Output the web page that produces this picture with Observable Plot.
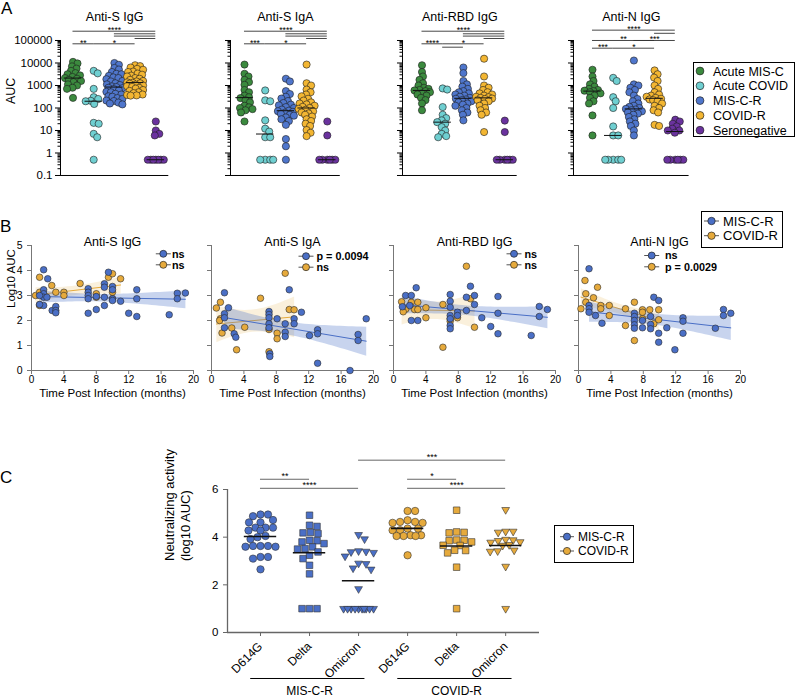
<!DOCTYPE html>
<html>
<head>
<meta charset="utf-8">
<script src="https://cdn.jsdelivr.net/npm/d3@7"></script>
<script src="https://cdn.jsdelivr.net/npm/@observablehq/plot@0.6"></script>
<style>
  html, body { margin: 0; padding: 0; background: #fff; }
  #root { position: relative; width: 799px; height: 698px; overflow: hidden; font-family: "Liberation Sans", Arial, Helvetica, sans-serif; color: #000; }
  .panel-label { position: absolute; font-size: 17px; line-height: 17px; }
</style>
</head>
<body>
<div id="root">
  <div class="panel-label" style="left:1px;top:0px">A</div>
  <div class="panel-label" style="left:0px;top:218px">B</div>
  <div class="panel-label" style="left:0px;top:469px">C</div>
</div>
<script>
const FONT = '"Liberation Sans", Arial, Helvetica, sans-serif';
const root = document.getElementById("root");

// ================= Panel A data (log10 AUC) =================
const groupsA = ["Acute MIS-C", "Acute COVID", "MIS-C-R", "COVID-R", "Seronegative"];
const colorsA = ["#3b8a3e", "#6fcfd1", "#4f76cc", "#f3b632", "#6a329e"];
const antigensA = ["Anti-S IgG", "Anti-S IgA", "Anti-RBD IgG", "Anti-N IgG"];
const ticksA = [0.1, 1, 10, 100, 1000, 10000, 100000];

const sIgG_acuteMISC = [4.05,3.98,3.85,3.75,3.65,3.55,3.5,3.45,3.38,3.33,3.3,3.25,3.2,3.15,3.05,3.0,2.9,2.85,2.45];
const sIgG_acuteCOVID = [3.65,3.54,2.85,2.48,2.4,2.32,2.3,2.18,1.34,1.3,0.85,0.7,-0.3];
const sIgG_miscR = [4.0,3.92,3.78,3.71,3.6,3.52,3.5,3.43,3.36,3.33,3.28,3.2,3.18,3.1,3.05,3.02,2.96,2.93,2.9,2.88,2.84,2.78,2.72,2.7,2.63,2.6,2.52,2.5,2.44,2.4,2.33,2.31,2.24,2.2,2.16];
const sIgG_covidR = [3.9,3.86,3.8,3.74,3.7,3.62,3.6,3.53,3.48,3.44,3.4,3.33,3.3,3.25,3.2,3.18,3.14,3.12,3.1,3.08,3.04,3.0,2.97,2.94,2.9,2.86,2.8,2.76,2.7,2.66,2.6,2.58,2.56,2.55];
const sIgG_seroneg = [1.4,1.0,0.85,0.78,-0.3,-0.3,-0.3,-0.3,-0.3,-0.3,-0.3];

const sIgA_acuteMISC = [3.93,3.52,3.4,3.25,3.15,3.03,2.8,2.7,2.55,2.48,2.44,2.35,2.25,2.1,2.03,2.0,1.95,1.9,1.8,1.4];
const sIgA_acuteCOVID = [2.78,2.34,2.3,1.45,1.08,0.95,0.7,0.7,-0.3,-0.3,-0.3,-0.3];
const sIgA_miscR = [3.3,3.18,2.75,2.62,2.5,2.42,2.31,2.22,2.15,2.12,2.04,2.0,1.93,1.88,1.86,1.83,1.79,1.74,1.7,1.66,1.58,1.5,1.42,1.25,0.62,0.3,-0.3];
const sIgA_covidR = [3.93,3.1,3.0,2.82,2.7,2.6,2.52,2.41,2.33,2.25,2.2,2.16,2.1,2.05,2.0,1.96,1.92,1.85,1.8,1.76,1.7,1.62,1.5,1.42,1.3,1.2,1.02,0.9,0.75];
const sIgA_seroneg = [1.4,0.78,-0.3,-0.3,-0.3,-0.3,-0.3,-0.3];

const rbdIgG_acuteMISC = [3.9,3.6,3.4,3.25,3.1,3.0,2.9,2.85,2.8,2.78,2.75,2.7,2.65,2.6,2.55,2.45,2.35,2.2,1.9];
const rbdIgG_acuteCOVID = [2.87,2.82,2.04,1.7,1.55,1.45,1.37,1.3,1.15,1.0,0.85,0.75,0.7];
const rbdIgG_miscR = [3.8,3.55,3.2,3.05,2.95,2.85,2.75,2.7,2.65,2.6,2.55,2.5,2.45,2.41,2.38,2.35,2.3,2.25,2.2,2.15,2.1,2.0,1.9,1.8,1.7,1.45];
const rbdIgG_covidR = [4.19,3.4,3.0,2.9,2.8,2.7,2.65,2.6,2.55,2.5,2.48,2.45,2.42,2.4,2.35,2.3,2.2,2.1,2.0,1.9,1.8,1.7,0.93];
const rbdIgG_seroneg = [1.44,0.93,-0.3,-0.3,-0.3,-0.3,-0.3,-0.3];

const nIgG_acuteMISC = [3.7,3.4,3.2,3.05,2.95,2.85,2.8,2.77,2.75,2.7,2.65,2.55,2.45,2.3,2.2,1.67,0.78];
const nIgG_acuteCOVID = [3.34,3.2,2.48,2.3,2.0,1.18,0.78,0.78,-0.3,-0.3,-0.3,-0.3,-0.3];
const nIgG_miscR = [4.11,3.05,3.0,2.9,2.8,2.7,2.55,2.4,2.3,2.2,2.1,2.05,2.0,1.96,1.93,1.9,1.85,1.8,1.75,1.7,1.6,1.5,1.4,1.3,1.2,1.0,0.78];
const nIgG_covidR = [3.67,3.5,3.35,3.2,3.0,2.85,2.7,2.6,2.55,2.5,2.45,2.41,2.38,2.35,2.3,2.2,2.1,2.0,1.9,1.8,1.25,1.2];
const nIgG_seroneg = [1.48,1.4,1.3,1.18,1.08,1.0,1.0,0.9,-0.3,-0.3,-0.3,-0.3,-0.3,-0.3];

const dataA = [
  [sIgG_acuteMISC, sIgG_acuteCOVID, sIgG_miscR, sIgG_covidR, sIgG_seroneg],
  [sIgA_acuteMISC, sIgA_acuteCOVID, sIgA_miscR, sIgA_covidR, sIgA_seroneg],
  [rbdIgG_acuteMISC, rbdIgG_acuteCOVID, rbdIgG_miscR, rbdIgG_covidR, rbdIgG_seroneg],
  [nIgG_acuteMISC, nIgG_acuteCOVID, nIgG_miscR, nIgG_covidR, nIgG_seroneg]
];

// significance brackets: [from group, to group, label, stacking row]
const sigA_sIgG = [[0,4,"****",0],[2,4,"",1],[2,4,"",2],[3,4,"",3],[0,1,"**",4],[1,3,"*",4]];
const sigA_sIgA = [[0,4,"****",0],[2,4,"",1],[2,4,"",2],[3,4,"",3],[0,1,"***",4],[1,3,"*",4]];
const sigA_rbd  = [[0,4,"****",0],[2,4,"",1],[2,4,"",2],[3,4,"",3],[0,1,"****",4],[1,3,"*",4],[1,2,"",5]];
const sigA_n    = [[0,4,"****",0],[3,4,"",1],[0,3,"**",2],[2,4,"***",2],[0,1,"***",3],[1,3,"*",3]];
const sigA = [sigA_sIgG, sigA_sIgA, sigA_rbd, sigA_n];

// ================= Panel B data: [months, log10 AUC] =================
const cohorts = ["MIS-C-R", "COVID-R"];
const cohortColors = ["#4a6fc6", "#e6aa3c"];
const statsB = [["ns", "ns"], ["p = 0.0094", "ns"], ["ns", "ns"], ["ns", "p = 0.0029"]];
const ticksBx = [0, 4, 8, 12, 16, 20];
const ticksBy = [0, 1, 2, 3, 4, 5];

const bSIgG_miscR = [[1.5,4.03],[2.0,3.67],[1.5,3.23],[1.5,3.07],[1.5,2.93],[1.0,3.0],[1.9,2.93],[1.5,2.6],[1.0,2.64],[2.55,2.4],[3.0,2.56],[3.0,2.4],[3.0,2.31],[7.0,3.27],[7.0,3.13],[7.0,3.0],[7.0,2.87],[7.0,2.29],[8.0,2.96],[8.0,2.44],[9.0,3.47],[9.0,3.33],[9.0,2.93],[9.0,2.6],[9.5,3.93],[10.0,3.36],[10.0,3.23],[10.0,2.87],[10.0,2.8],[11.0,2.77],[12.0,2.29],[13.0,3.23],[13.0,2.87],[13.0,2.16],[17.0,2.23],[18.0,3.09],[18.0,2.87],[19.0,3.1]];
const bSIgG_covidR = [[0.5,3.0],[1.0,3.73],[1.0,3.13],[1.0,2.63],[1.0,2.6],[2.5,3.4],[3.0,3.13],[4.0,3.13],[4.0,3.0],[6.0,3.48],[8.0,3.07],[8.0,2.93],[9.5,3.73],[10.0,3.87],[10.0,3.13],[10.0,2.87],[11.0,3.67]];
const bSIgA_miscR = [[1.6,3.11],[2.1,2.51],[1.6,2.27],[1.6,2.11],[1.6,1.71],[2.8,1.47],[3.0,1.33],[7.1,2.36],[7.1,2.24],[7.1,2.11],[7.1,1.87],[7.1,1.71],[7.2,0.67],[7.2,0.56],[8.1,2.07],[9.1,1.87],[9.1,1.53],[9.1,1.36],[9.6,3.23],[10.2,2.07],[10.2,1.87],[11.1,2.33],[12.1,1.4],[13.1,1.63],[13.1,1.47],[13.1,0.29],[17.1,0.0],[18.1,1.44],[18.1,1.2],[19.1,2.07]];
const bSIgA_covidR = [[1.1,2.73],[1.1,2.07],[0.6,2.5],[1.0,2.0],[1.3,1.5],[2.5,1.7],[3.1,0.83],[4.1,1.73],[6.05,2.89],[7.1,1.64],[7.1,0.75],[8.1,1.49],[8.1,1.27],[9.1,3.89],[9.6,2.44],[10.2,2.43]];
const bRBD_miscR = [[1.1,2.55],[1.5,3.0],[2.0,2.6],[2.2,3.0],[2.8,3.31],[2.2,2.0],[3.0,2.0],[7.0,3.04],[7.0,2.77],[7.0,2.53],[7.0,2.2],[7.0,2.07],[7.0,1.8],[7.0,1.67],[7.9,2.33],[7.9,2.2],[9.0,2.93],[9.0,2.4],[9.5,3.37],[10.0,3.0],[10.0,2.64],[10.9,2.11],[12.0,1.76],[12.9,2.96],[12.9,2.29],[12.9,1.47],[17.0,1.4],[18.0,2.56],[18.0,2.16],[19.0,2.44]];
const bRBD_covidR = [[1.0,2.75],[1.5,2.45],[1.2,2.35],[2.2,2.73],[3.0,2.73],[2.6,2.44],[3.0,2.44],[4.0,2.51],[4.0,2.11],[6.1,2.64],[6.1,0.93],[7.0,2.07],[7.0,1.97],[7.9,2.11],[9.0,4.17],[9.5,2.87],[10.0,1.73]];
const bN_miscR = [[1.3,4.07],[1.3,2.6],[1.3,2.47],[1.3,2.33],[2.1,2.2],[2.9,1.89],[6.9,2.29],[6.9,2.16],[6.9,2.0],[6.9,1.83],[6.9,1.69],[7.9,2.0],[7.9,1.71],[8.9,2.16],[8.9,1.84],[8.9,1.67],[9.3,2.93],[9.9,2.8],[9.9,1.49],[9.9,1.13],[10.9,1.71],[11.9,0.83],[12.9,2.11],[12.9,1.97],[12.9,1.49],[16.9,1.69],[17.9,2.44],[17.9,2.2],[18.8,2.29]];
const bN_covidR = [[0.3,2.47],[0.8,3.6],[0.9,3.07],[0.9,2.73],[1.85,2.91],[2.35,3.33],[2.75,2.6],[2.75,2.47],[3.8,2.6],[3.8,2.2],[5.8,2.47],[5.8,1.8],[6.9,2.73],[6.9,1.2],[7.9,2.43],[7.9,2.33],[7.9,2.07],[8.8,2.43],[9.3,1.87],[9.9,2.43],[9.9,2.03]];
const dataB = [[bSIgG_miscR, bSIgG_covidR], [bSIgA_miscR, bSIgA_covidR], [bRBD_miscR, bRBD_covidR], [bN_miscR, bN_covidR]];

// ================= Panel C data: neutralizing activity, log10 AUC =================
const variantsC = ["D614G", "Delta", "Omicron"];
const ticksCy = [0, 2, 4, 6];
const cMISCR_D614G = [4.95,4.95,4.88,4.72,4.62,4.62,4.4,4.4,4.4,4.28,4.28,4.05,4.0,3.92,3.63,3.63,3.63,3.6,3.6,3.17,3.17,3.1,2.65];
const cMISCR_Delta = [4.92,4.5,4.45,4.2,4.18,4.15,3.87,3.85,3.8,3.73,3.59,3.52,3.5,3.38,3.24,3.1,2.82,2.46,1.0,1.0,1.0];
const cMISCR_Omicron = [4.1,3.92,3.42,3.4,3.38,3.35,3.2,2.9,2.88,2.7,2.65,1.83,1,1,1,1,1,1,1,1,1,1];
const cCOVIDR_D614G = [5.1,5.1,4.71,4.64,4.64,4.6,4.6,4.36,4.36,4.29,4.29,4.08,4.08,4.05,4.05,4.05,3.24];
const cCOVIDR_Delta = [5.13,4.22,4.2,4.18,3.88,3.87,3.85,3.8,3.66,3.65,3.45,3.44,3.34,2.74,1.0];
const cCOVIDR_Omicron = [5.15,4.24,4.24,4.2,3.9,3.88,3.85,3.8,3.78,3.68,3.65,3.45,3.42,3.4,2.77,1.0];
const dataC = [cMISCR_D614G, cMISCR_Delta, cMISCR_Omicron, cCOVIDR_D614G, cCOVIDR_Delta, cCOVIDR_Omicron];
const sigC = [[2,5,"***",0],[0,1,"**",1],[3,4,"*",1],[0,2,"****",2],[3,5,"****",2]];

// ================= helpers =================
function place(node, left, top) {
  node.style.position = "absolute";
  node.style.left = left + "px";
  node.style.top = top + "px";
  root.appendChild(node);
}
// deterministic beeswarm offsets (pixels) for pixel y positions
function swarm(ys, D, W, step = 0.5) {
  const n = ys.length;
  const order = d3.range(n).sort((a, b) => (ys[a] - ys[b]) || (a - b));
  const cands = [0];
  for (let s = step; s <= W + 1e-9; s += step) cands.push(s, -s);
  const px = [], py = [], off = new Array(n);
  for (const i of order) {
    let chosen = null, best = -1, bestC = 0;
    for (const c of cands) {
      let md = Infinity;
      for (let j = 0; j < px.length; j++) {
        const d = Math.hypot(c - px[j], ys[i] - py[j]);
        if (d < md) md = d;
      }
      if (md >= D) { chosen = c; break; }
      if (md > best + 1e-9) { best = md; bestC = c; }
    }
    if (chosen === null) chosen = bestC;
    off[i] = chosen; px.push(chosen); py.push(ys[i]);
  }
  return off;
}
const baseStyle = {background: "transparent", overflow: "visible", fontFamily: FONT, fontSize: "11px", color: "#000"};

// ================= Panel A =================
const A_AXIS = [60, 229.5, 402, 572.7];
const A_END = [168.3, 339.3, 516.7, 688.3];
const A_GAP = [12.5, 14, 19.5, 19];
const sigRowsA = [
  [5.413, 5.298, 5.196, 5.089, 4.853, 4.702],
  [5.413, 5.298, 5.196, 5.089, 4.853, 4.702],
  [5.413, 5.298, 5.196, 5.089, 4.853, 4.702],
  [5.46, 5.32, 5.0, 4.658]
];
function plotA(k) {
  const ax = A_AXIS[k], end = A_END[k], gap = A_GAP[k], sp = 20.7;
  const ml = 60, mr = 4, mt = 22, mb = 10, height = 185;
  const inner = end - ax, width = ml + inner + mr;
  const x0 = -gap / sp, x1 = 4 + (end - (ax + gap + 4 * sp)) / sp;
  const yDom = [0.1, Math.pow(10, 5.8)];
  const yPx = d3.scaleLog().domain(yDom).range([height - mb, mt]);
  const ppu = inner / (x1 - x0);
  const pts = [], meds = [];
  dataA[k].forEach((logs, gi) => {
    const vals = logs.map(v => Math.pow(10, v));
    const offs = swarm(vals.map(v => yPx(v)), 4.6, 8);
    vals.forEach((v, j) => pts.push({group: groupsA[gi], v, x: gi + offs[j] / ppu}));
    meds.push({gi, m: d3.median(vals)});
  });
  const bars = sigA[k].map(([a, b, label, row]) => ({a, b, label, y: Math.pow(10, sigRowsA[k][row])}));
  const minor = [];
  for (let e = -1; e < 5; e++) for (let m = 2; m <= 9; m++) minor.push(m * Math.pow(10, e));
  const svg = Plot.plot({
    width, height, marginLeft: ml, marginRight: mr, marginTop: mt, marginBottom: mb,
    style: baseStyle,
    x: {domain: [x0, x1], axis: null, label: null},
    y: {type: "log", domain: yDom, label: null},
    color: {domain: groupsA, range: colorsA},
    marks: [
      Plot.ruleX([{}], {x: () => x0, y1: () => 0.1, y2: () => 100000, stroke: "#000", strokeWidth: 1}),
      Plot.ruleY([{}], {y: () => 0.1, x1: () => x0, x2: () => x1, stroke: "#000", strokeWidth: 1}),
      Plot.axisY(minor, {tickSize: 2.5, tickFormat: () => "", stroke: "#000"}),
      Plot.axisY(ticksA, {tickSize: 5, tickPadding: 3, tickFormat: k === 0 ? (d => String(d)) : (() => ""), stroke: "#000", fontSize: 11.5}),
      Plot.dot(pts, {x: "x", y: "v", r: 3.6, fill: "group", stroke: "#1d1d1d", strokeWidth: 0.6}),
      Plot.ruleY(meds, {y: "m", x1: d => d.gi - 0.42, x2: d => d.gi + 0.42, stroke: "#111", strokeWidth: 1}),
      Plot.ruleY(bars, {y: "y", x1: "a", x2: "b", stroke: "#333", strokeWidth: 0.9}),
      Plot.text(bars.filter(d => d.label), {x: d => (d.a + d.b) / 2, y: "y", text: "label", dy: -1, fontSize: 8.5}),
      Plot.text([antigensA[k]], {frameAnchor: "top", text: d => d, dy: -10, fontSize: 12.5}),
      ...(k === 0 ? [Plot.text(["AUC"], {frameAnchor: "left", text: d => d, rotate: -90, dx: -50, dy: 5, fontSize: 12.5})] : [])
    ]
  });
  place(svg, ax - ml, 0);
}
antigensA.forEach((_, k) => plotA(k));

// ================= Panel B =================
const B_AXIS = [31, 211, 392.5, 578];
function plotB(k) {
  const ax = B_AXIS[k], ml = 31, mr = 8, mt = 20, mb = 34, inner = 162, height = 179;
  const width = ml + inner + mr;
  const toObj = arr => arr.map(([m, v]) => ({m, v}));
  const mis = toObj(dataB[k][0]), cov = toObj(dataB[k][1]);
  const svg = Plot.plot({
    width, height, marginLeft: ml, marginRight: mr, marginTop: mt, marginBottom: mb,
    style: baseStyle,
    x: {domain: [0, 20], label: null},
    y: {domain: [0, 5], label: null},
    marks: [
      Plot.linearRegressionY(cov, {x: "m", y: "v", stroke: cohortColors[1], fill: cohortColors[1], fillOpacity: 0.18, strokeWidth: 1}),
      Plot.linearRegressionY(mis, {x: "m", y: "v", stroke: cohortColors[0], fill: cohortColors[0], fillOpacity: 0.3, strokeWidth: 1}),
      Plot.ruleX([{}], {x: () => 0, y1: () => 0, y2: () => 5, stroke: "#777", strokeWidth: 1}),
      Plot.ruleY([{}], {y: () => 0, x1: () => 0, x2: () => 20, stroke: "#777", strokeWidth: 1}),
      Plot.axisY(ticksBy, {tickSize: 4, tickFormat: k === 0 ? (d => String(d)) : (() => ""), stroke: "#777", fontSize: 10.5}),
      Plot.axisX(ticksBx, {tickSize: 4, tickPadding: 1, stroke: "#777", fontSize: 10}),
      Plot.dot(cov, {x: "m", y: "v", r: 3.3, fill: cohortColors[1], stroke: "#2a2a2a", strokeWidth: 0.6}),
      Plot.dot(mis, {x: "m", y: "v", r: 3.3, fill: cohortColors[0], stroke: "#2a2a2a", strokeWidth: 0.6}),
      Plot.text([antigensA[k]], {frameAnchor: "top", text: d => d, dy: -8, fontSize: 12.5}),
      Plot.text(["Time Post Infection (months)"], {frameAnchor: "bottom", text: d => d, dy: 26, fontSize: 11.5}),
      ...(k === 0 ? [Plot.text(["Log10 AUC"], {frameAnchor: "left", text: d => d, rotate: -90, dx: -20, fontSize: 11.5})] : [])
    ]
  });
  place(svg, ax - ml, 225);
}
antigensA.forEach((_, k) => plotB(k));

// ================= Panel C =================
function triDownSymbol() {
  return {
    draw(context, size) {
      const y = Math.sqrt(size / (Math.sqrt(3) * 3)) * 0.78;
      const s3 = Math.sqrt(3);
      context.moveTo(0, 2 * y);
      context.lineTo(-s3 * y, -y);
      context.lineTo(s3 * y, -y);
      context.closePath();
    }
  };
}
function plotC() {
  const ml = 77, mr = 6, mt = 39, mb = 66, width = 395, height = 248;
  const x0 = -0.673, x1 = 5.69;
  const ppu = (width - ml - mr) / (x1 - x0);
  const yPx = d3.scaleLinear().domain([0, 6]).range([height - mb, mt]);
  const pts = [], means = [];
  dataC.forEach((vals, i) => {
    const offs = swarm(vals.map(v => yPx(v)), 7.2, 16);
    vals.forEach((v, j) => pts.push({cohort: cohorts[Math.floor(i / 3)], variant: variantsC[i % 3], v, x: i + offs[j] / ppu}));
    means.push({i, m: d3.mean(vals)});
  });
  const rowsC = [7.23, 6.43, 6.05];
  const bars = sigC.map(([a, b, label, row]) => ({a, b, label, y: rowsC[row]}));
  const groupLines = cohorts.map((c, gi) => ({label: c, a: gi * 3, b: gi * 3 + 2}));
  const symbols = [d3.symbolCircle, d3.symbolSquare, triDownSymbol()];
  const svg = Plot.plot({
    width, height, marginLeft: ml, marginRight: mr, marginTop: mt, marginBottom: mb,
    style: baseStyle,
    x: {domain: [x0, x1], label: null},
    y: {domain: [0, 6], label: null},
    color: {domain: cohorts, range: cohortColors},
    marks: [
      Plot.ruleX([{}], {x: () => x0, y1: () => 0, y2: () => 6, stroke: "#666", strokeWidth: 1.3}),
      Plot.ruleY([{}], {y: () => 0, x1: () => x0, x2: () => x1, stroke: "#666", strokeWidth: 1.3}),
      Plot.axisY(ticksCy, {tickSize: 4, stroke: "#666", fontSize: 11.5}),
      Plot.axisX(d3.range(6), {tickSize: 4, tickRotate: -45, tickFormat: i => variantsC[i % 3], stroke: "#666", fontSize: 12}),
      ...variantsC.map((vn, vi) => Plot.dot(pts.filter(d => d.variant === vn), {x: "x", y: "v", r: 3.7, symbol: symbols[vi], fill: "cohort", stroke: "#333", strokeWidth: 0.6})),
      Plot.ruleY(means, {y: "m", x1: d => d.i - 0.33, x2: d => d.i + 0.33, stroke: "#111", strokeWidth: 1.6}),
      Plot.ruleY(bars, {y: "y", x1: "a", x2: "b", stroke: "#555", strokeWidth: 0.9}),
      Plot.text(bars, {x: d => (d.a + d.b) / 2, y: "y", text: "label", dy: -3.5, fontSize: 9}),
      Plot.ruleY(groupLines, {y: () => -1.93, x1: d => d.a - 0.2, x2: d => d.b + 0.13, stroke: "#000", strokeWidth: 1}),
      Plot.text(groupLines, {x: d => (d.a + d.b) / 2, y: () => -2.45, text: "label", fontSize: 12}),
      Plot.text(["Neutralizing activity\n(log10 AUC)"], {frameAnchor: "left", text: d => d, rotate: -90, dx: -51, fontSize: 13, lineHeight: 1.23})
    ]
  });
  place(svg, 150, 450);
}
plotC();

// ================= legends =================
function legend({left, top, width, height, border = false, rows, fontSize, bold = false, r = 3.7, line = null}) {
  const svg = d3.create("svg").attr("width", width).attr("height", height)
    .style("position", "absolute").style("left", left + "px").style("top", top + "px")
    .style("overflow", "visible").attr("font-family", FONT);
  if (border) svg.append("rect").attr("x", 0.5).attr("y", 0.5).attr("width", width - 1).attr("height", height - 1)
    .attr("fill", "#fff").attr("stroke", "#000").attr("stroke-width", 1);
  rows.forEach(row => {
    if (line) svg.append("line").attr("x1", row.cx + line[0]).attr("x2", row.cx + line[1])
      .attr("y1", row.y).attr("y2", row.y).attr("stroke", "#555").attr("stroke-width", 1);
    svg.append("circle").attr("cx", row.cx).attr("cy", row.y).attr("r", r)
      .attr("fill", row.color).attr("stroke", "#222").attr("stroke-width", 0.7);
    svg.append("text").attr("x", row.tx).attr("y", row.y).attr("dy", "0.36em")
      .attr("font-size", fontSize).attr("font-weight", bold ? "bold" : "normal").attr("fill", "#000").text(row.label);
  });
  root.appendChild(svg.node());
}
legend({left: 693, top: 62, width: 102, height: 75, border: true, fontSize: 12.5, r: 3.9,
  rows: groupsA.map((g, i) => ({label: g, color: colorsA[i], cx: 7, tx: 20, y: 9 + i * 14.8}))});
legend({left: 701, top: 211, width: 82, height: 37, border: true, fontSize: 13, r: 3.7, line: [-7.5, 7.5],
  rows: cohorts.map((c, i) => ({label: c, color: cohortColors[i], cx: 10.5, tx: 22, y: 10 + i * 14.7}))});
legend({left: 554, top: 525, width: 80, height: 38, border: true, fontSize: 12, r: 3.6, line: [-7, 7],
  rows: cohorts.map((c, i) => ({label: c, color: cohortColors[i], cx: 13, tx: 24, y: 11.7 + i * 14.3}))});
const B_LEG = [{cx: 163.3, tx: 172, y: 253.8, dy: 11}, {cx: 306, tx: 316.5, y: 256.2, dy: 11},
               {cx: 514, tx: 524.5, y: 253.8, dy: 11}, {cx: 651.7, tx: 665, y: 255.5, dy: 11.3}];
statsB.forEach((labels, k) => {
  const p = B_LEG[k];
  legend({left: 0, top: 0, width: 1, height: 1, fontSize: 10.8, bold: true, r: 3.5, line: [-7.5, 7.5],
    rows: labels.map((lab, i) => ({label: lab, color: cohortColors[i], cx: p.cx, tx: p.tx, y: p.y + i * p.dy}))});
});
</script>
</body>
</html>
